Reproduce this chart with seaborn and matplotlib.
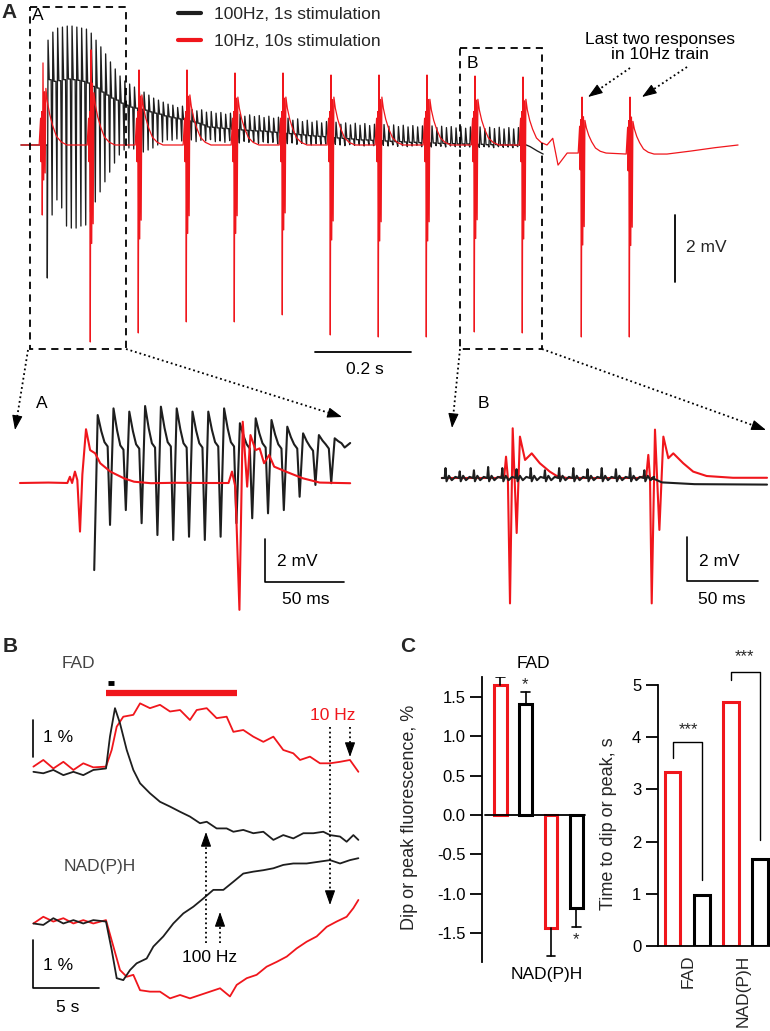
import numpy as np
import matplotlib
matplotlib.use('Agg')
import matplotlib.pyplot as plt
from matplotlib.patches import Rectangle
import seaborn as sns

sns.set_style('white')
plt.rcParams['font.family'] = ['Liberation Sans', 'DejaVu Sans']
plt.rcParams['axes.unicode_minus'] = False

RED = '#f0161c'
BLK = '#1e1e1e'

# ── Panel A overview: 10 Hz responses (ms, mV) ─────────────────────────────
a_red_onset_ms = [0, 100, 200, 300, 400, 500, 600, 700, 800, 900, 1000, 1123, 1223]
a_red_peak_mv = [2.45, 2.84, 2.24, 2.24, 2.15, 2.15, 2.09, 2.09, 2.09, 2.06, 2.03, 1.43, 1.43]
a_red_trough_mv = [-2.09, -5.88, -5.61, -5.28, -5.28, -5.07, -5.67, -5.73, -5.73, -5.58, -5.61, -5.73, -5.73]
a_red_hump_mv = [1.3, 1.2, 1.15, 1.15, 1.1, 1.1, 1.1, 1.1, 1.05, 1.05, 1.05, 0.75, 0.75]
a_red_base_mv = [0, 0, 0, 0, 0, 0, 0, 0, 0, 0, 0, -0.24, -0.27]
a_red_break_ms = [1062, 1073, 1092]
a_red_break_mv = [0.2, -0.6, -0.24]
a_red_tail_ms = [1300, 1350, 1400, 1448]
a_red_tail_mv = [-0.27, -0.18, -0.08, 0.0]

# ── Panel A overview: 100 Hz train, per-stimulus top / shoulder / bottom (mV)
a_blk_first_ms = 9
a_blk_rate_hz = 100
a_blk_top_mv = [
    3.13, 3.37, 3.49, 3.52, 3.55, 3.55, 3.52, 3.49, 3.46, 3.34,
    3.13, 2.93, 2.72, 2.48, 2.27, 2.06, 1.91, 1.82, 1.73, 1.67,
    1.58, 1.49, 1.40, 1.34, 1.28, 1.22, 1.19, 1.12, 1.16, 1.08,
    1.06, 1.02, 1.05, 0.98, 1.00, 0.95, 0.97, 0.92, 0.95, 0.90,
    0.92, 0.86, 0.90, 0.85, 0.88, 0.82, 0.86, 0.80, 0.83, 0.76,
    0.80, 0.74, 0.78, 0.70, 0.74, 0.68, 0.72, 0.66, 0.70, 0.64,
    0.68, 0.62, 0.66, 0.60, 0.65, 0.59, 0.64, 0.58, 0.62, 0.57,
    0.61, 0.56, 0.60, 0.55, 0.59, 0.54, 0.58, 0.54, 0.57, 0.53,
    0.57, 0.52, 0.56, 0.52, 0.55, 0.51, 0.55, 0.50, 0.54, 0.50,
    0.54, 0.49, 0.53, 0.49, 0.53, 0.48, 0.52, 0.48, 0.52, 0.47]
a_blk_mid_mv = [
    1.95, 1.90, 1.92, 1.95, 1.97, 1.95, 1.93, 1.90, 1.85, 1.75,
    1.70, 1.58, 1.49, 1.40, 1.34, 1.25, 1.19, 1.13, 1.10, 1.07,
    1.04, 0.99, 0.95, 0.92, 0.87, 0.84, 0.81, 0.78, 0.76, 0.72,
    0.69, 0.65, 0.60, 0.54, 0.53, 0.51, 0.50, 0.49, 0.47, 0.46,
    0.45, 0.44, 0.43, 0.42, 0.42, 0.41, 0.39, 0.38, 0.36, 0.35,
    0.34, 0.33, 0.31, 0.30, 0.28, 0.27, 0.26, 0.25, 0.24, 0.22,
    0.21, 0.20, 0.19, 0.18, 0.16, 0.15, 0.15, 0.14, 0.13, 0.13,
    0.12, 0.11, 0.10, 0.10, 0.09, 0.08, 0.08, 0.07, 0.07, 0.06,
    0.06, 0.05, 0.05, 0.04, 0.04, 0.03, 0.03, 0.03, 0.02, 0.02,
    0.02, 0.01, 0.01, 0.01, 0.00, 0.00, 0.00, -0.01, -0.01, 0.00]
a_blk_bot_mv = [
    -3.97, -2.09, -1.64, -1.88, -2.42, -2.48, -2.48, -2.42, -2.39, -2.00,
    -1.70, -1.40, -1.10, -0.81, -0.54, -0.30, -0.15, -0.09, -0.12, -0.21,
    -0.21, -0.15, -0.09, 0.00, 0.09, 0.15, 0.14, 0.18, 0.12, 0.16,
    0.15, 0.10, 0.14, 0.12, 0.16, 0.10, 0.12, 0.08, 0.13, 0.10,
    0.06, 0.11, 0.08, 0.10, 0.05, 0.09, 0.06, 0.08, 0.03, 0.07,
    0.04, 0.06, 0.02, 0.05, 0.03, 0.00, 0.04, 0.01, 0.03, -0.01,
    0.02, 0.00, -0.02, 0.01, -0.01, 0.00, -0.03, 0.00, -0.02, -0.04,
    -0.01, -0.03, 0.00, -0.04, -0.02, -0.05, -0.03, -0.01, -0.05, -0.03,
    -0.06, -0.02, -0.04, -0.06, -0.03, -0.05, -0.07, -0.04, -0.06, -0.03,
    -0.07, -0.05, -0.06, -0.08, -0.05, -0.07, -0.06, -0.08, -0.05, -0.07]
a_blk_tail_ms = [1015, 1030, 1042]
a_blk_tail_mv = [-0.05, -0.18, -0.27]

# ── Inset A (ms, mV) ───────────────────────────────────────────────────────
ia_red_ms = [-38, -20, -8, -6.4, -5, -3.2, -1.7, 0, 1.5, 3.8,
             6.4, 9.6, 12.8, 19.2, 27.8, 34.2, 44.9, 60, 80, 94,
             96.2, 98.3, 100.9, 103, 105.8, 107.9, 111.1, 113.7, 116.5, 119.7,
             122.9, 130.3, 141, 151.7, 171]
ia_red_mv = [0, 0.02, 0, 0.29, 0, 0.53, 0.14, -2.26, 0.4, 2.5,
             1.53, 1.38, 0.92, 0.53, 0.22, 0.06, -0.01, 0.01, 0, 0,
             0.53, -0.17, -5.9, 2.85, -0.17, 2.23, 1.53, 1.61, 0.92, 1.30,
             0.76, 0.53, 0.22, 0.02, -0.01]
ia_blk_first_ms = 9
ia_blk_top_mv = [3.16, 3.47, 3.32, 3.58, 3.55, 3.47, 3.32, 3.32,
                 3.47, 2.78, 3.01, 2.93, 2.62, 2.31, 2.23, 2.08]
ia_blk_mid_mv = [1.90, 1.75, 1.80, 1.85, 1.90, 1.85, 1.85, 1.90,
                 1.90, 1.80, 1.85, 1.80, 1.80, 1.70, 1.80, 1.85]
ia_blk_bot_mv = [-4.05, -1.95, -1.26, -1.87, -2.42, -2.65, -2.50, -2.65,
                 -2.50, -1.87, -1.64, -1.41, -1.26, -0.64, -0.09, -0.01]

# ── Inset B (ms, mV) ───────────────────────────────────────────────────────
ib_red_ms = [-48, -10, -4, -2.8, -1.5, 0, 1.9, 4.7, 7.0, 10.6,
             15.3, 21, 28, 33, 40, 90, 96, 97.4, 98.6, 99.8,
             102.1, 105.2, 108, 111.5, 115, 122, 129, 138.5, 157, 181]
ib_red_mv = [0, 0, 0.1, 0.97, 0, -5.7, 2.26, -2.5, 1.88, 0.82,
             1.12, 0.67, 0.29, 0.09, 0, 0, 0.1, 1.05, 0, -5.7,
             2.2, -2.36, 1.88, 0.9, 1.12, 0.67, 0.29, 0.09, 0.01, 0.01]
ib_blk_first_ms = -46
ib_blk_tick_mv = [0.45, 0.30, 0.35, 0.50, 0.45, 0.40, 0.45, 0.35,
                  0.45, 0.45, 0.40, 0.45, 0.40, 0.45, 0.35]
ib_blk_tail_ms = [107, 130, 181]
ib_blk_tail_mv = [-0.2, -0.28, -0.3]

# ── Panel B: fluorescence (s, %) ───────────────────────────────────────────
b_fad_red_s = [-5.5, -4.75, -3.99, -3.23, -2.47, -1.72, -0.96, 0, 0.43, 0.81,
               1.31, 2.07, 2.58, 3.33, 4.09, 4.85, 5.61, 6.36, 6.87, 7.63,
               8.38, 9.14, 9.65, 10.40, 11.16, 11.92, 12.68, 13.43, 14.19, 14.70,
               15.45, 16.21, 16.97, 17.73, 18.48, 19.12]
b_fad_red_pct = [0.01, 0.19, -0.04, 0.14, -0.08, 0.10, -0.01, 0.01, 0.46, 1.09,
                 1.36, 1.41, 1.72, 1.59, 1.68, 1.50, 1.54, 1.27, 1.54, 1.59,
                 1.32, 1.36, 0.95, 1.00, 0.82, 0.68, 0.82, 0.46, 0.37, 0.19,
                 0.28, 0.10, 0.10, 0.14, 0.19, -0.13]
b_fad_blk_s = [-5.5, -4.75, -3.99, -3.23, -2.47, -1.72, -0.96, 0, 0.30, 0.68,
               1.06, 1.57, 2.07, 2.58, 3.33, 4.09, 4.85, 5.61, 6.36, 7.12,
               7.63, 8.38, 9.14, 9.65, 10.40, 11.16, 11.92, 12.68, 13.43, 14.19,
               14.95, 15.71, 16.46, 16.97, 17.73, 18.23, 18.74, 19.12]
b_fad_blk_pct = [-0.13, -0.17, -0.08, -0.22, -0.13, -0.22, -0.08, -0.04, 0.82, 1.59,
                 1.18, 0.46, -0.08, -0.44, -0.71, -0.94, -1.07, -1.21, -1.34, -1.52,
                 -1.48, -1.66, -1.66, -1.75, -1.70, -1.79, -1.75, -1.97, -1.84, -1.93,
                 -1.79, -1.79, -1.75, -1.84, -1.88, -2.02, -1.84, -1.97]
b_nad_blk_s = [-5.5, -4.75, -3.99, -3.23, -2.47, -1.72, -0.96, 0, 0.43, 0.81,
               1.31, 1.82, 2.32, 3.08, 3.59, 4.34, 5.10, 5.86, 6.62, 7.37,
               8.13, 8.89, 9.65, 10.40, 11.16, 11.92, 12.68, 13.43, 14.19, 15.20,
               16.21, 16.97, 17.73, 18.48, 19.12]
b_nad_blk_pct = [-0.01, -0.04, 0.10, -0.01, 0.06, -0.01, 0.06, 0.03, -0.56, -1.15,
                 -1.19, -0.98, -0.84, -0.74, -0.49, -0.28, -0.01, 0.20, 0.34, 0.51,
                 0.69, 0.69, 0.86, 1.03, 1.07, 1.10, 1.14, 1.21, 1.24, 1.24,
                 1.28, 1.31, 1.24, 1.31, 1.35]
b_nad_red_s = [-5.5, -4.75, -3.99, -3.23, -2.47, -1.72, -0.96, 0, 0.56, 1.06,
               1.57, 2.07, 2.58, 3.33, 4.09, 4.85, 5.61, 6.36, 7.12, 7.88,
               8.64, 9.39, 9.90, 10.66, 11.41, 12.17, 12.93, 13.69, 14.44, 15.20,
               15.96, 16.72, 17.47, 18.23, 18.74, 19.12]
b_nad_red_pct = [-0.01, 0.13, 0.03, 0.10, -0.01, 0.06, -0.01, 0.06, -0.49, -0.98,
                 -1.12, -1.08, -1.40, -1.43, -1.43, -1.57, -1.50, -1.57, -1.50, -1.43,
                 -1.36, -1.53, -1.29, -1.15, -1.08, -0.91, -0.81, -0.70, -0.53, -0.39,
                 -0.28, -0.08, 0.03, 0.13, 0.31, 0.48]
b_train_10hz_s = [0, 9.9]
b_train_100hz_s = [0.15, 0.6]

# ── Panel C ────────────────────────────────────────────────────────────────
c_cond = ['FAD 10Hz', 'FAD 100Hz', 'NADH 10Hz', 'NADH 100Hz']
c_freq = ['10 Hz', '100 Hz', '10 Hz', '100 Hz']
c_amp_pct = [1.64, 1.40, -1.43, -1.18]
c_amp_err = [0.11, 0.16, 0.36, 0.24]
c_time_s = [3.33, 0.98, 4.68, 1.66]
c_pal = {'10 Hz': RED, '100 Hz': 'black'}

# ── figure in pixel units ──────────────────────────────────────────────────
W, H = 770, 1031
fig = plt.figure(figsize=(W / 100, H / 100), dpi=100)


def px_axes(l, t, r, b):
    return fig.add_axes([l / W, 1 - b / H, (r - l) / W, (b - t) / H])


def trace_axes(box, x0, sx, y0, sy):
    # a point (x, v) of the trace lands at pixel (x0 + sx*x, y0 - sy*v)
    l, t, r, b = box
    ax = px_axes(l, t, r, b)
    ax.set_axis_off()
    ax.patch.set_alpha(0)
    ax.set_xlim((l - x0) / sx, (r - x0) / sx)
    ax.set_ylim((y0 - b) / sy, (y0 - t) / sy)
    return ax


def trace(ax, x, y, color, lw, label=None):
    lims = ax.get_xlim(), ax.get_ylim()
    sns.lineplot(x=np.asarray(x, float), y=np.asarray(y, float), sort=False,
                 estimator=None, color=color, lw=lw, ax=ax, label=label,
                 legend=False)
    ax.set_xlim(lims[0])
    ax.set_ylim(lims[1])
    return ax.lines[-1]


def red_response(t0, peak, trough, hump, base):
    dt = [-8, -5, -4, -2.5, -1.5, 0, 1.5, 3, 4.5, 6, 9, 14, 20, 28, 38, 50]
    p, tr = peak - base, trough - base
    dv = [0, 0.8, -0.5, 1.0, tr, p, 0.5 * tr, 0.65 * p, 0.4 * tr,
          1.3 * hump, hump, 0.7 * hump, 0.45 * hump, 0.2 * hump, 0.07 * hump, 0]
    return [t0 + d for d in dt], [base + d for d in dv]


# Panel A overview traces
axA = trace_axes((0, 0, 770, 375), 43, 0.48, 145, 33.5)
bt, bv = [-46, a_blk_first_ms - 0.5], [0, 0]
period = 1000 / a_blk_rate_hz
for k in range(len(a_blk_top_mv)):
    tk = a_blk_first_ms + k * period
    bt += [tk, tk + 1.5, tk + 4, tk + 8]
    bv += [a_blk_bot_mv[k], a_blk_top_mv[k], a_blk_mid_mv[k], a_blk_mid_mv[k]]
bt += a_blk_tail_ms
bv += a_blk_tail_mv
h_blk = trace(axA, bt, bv, BLK, 0.95, '100Hz, 1s stimulation')

rt, rv = [-46], [0]
for i, t0 in enumerate(a_red_onset_ms):
    if i == 11:
        rt += a_red_break_ms
        rv += a_red_break_mv
    tt, vv = red_response(t0, a_red_peak_mv[i], a_red_trough_mv[i],
                          a_red_hump_mv[i], a_red_base_mv[i])
    rt += tt
    rv += vv
rt += a_red_tail_ms
rv += a_red_tail_mv
h_red = trace(axA, rt, rv, RED, 0.9, '10Hz, 10s stimulation')

axA.plot([566.7, 766.7], [-6.18, -6.18], color='k', lw=1.3)
axA.plot([1316.7, 1316.7], [-4.09, -2.09], color='k', lw=1.3)

leg = axA.legend(handles=[h_blk, h_red], loc='upper left',
                 bbox_to_anchor=(178 / W, 1 - 7 / H), bbox_transform=fig.transFigure,
                 frameon=False, fontsize=12.5, handlelength=1.35, handletextpad=0.7,
                 labelspacing=0.65, borderpad=0, borderaxespad=0)
for ln in leg.get_lines():
    ln.set_linewidth(3)

# Inset A
axIA = trace_axes((0, 380, 390, 640), 80, 1.58, 483, 21.5)
it, iv = [], []
for k in range(len(ia_blk_top_mv)):
    tk = ia_blk_first_ms + k * 10
    top, mid = ia_blk_top_mv[k], ia_blk_mid_mv[k]
    it += [tk, tk + 2.2, tk + 4.5, tk + 6.5, tk + 8.5]
    iv += [ia_blk_bot_mv[k], top, top - 0.6 * (top - mid), mid, mid - 0.2]
it += [171]
iv += [1.86]
trace(axIA, it, iv, BLK, 1.5)
trace(axIA, ia_red_ms, ia_red_mv, RED, 1.5)
axIA.plot([117.1, 117.1, 167.1], [-2.6, -4.6, -4.6], color='k', lw=1.2)

# Inset B
axIB = trace_axes((390, 380, 770, 640), 510, 1.42, 478, 22)
trace(axIB, ib_red_ms, ib_red_mv, RED, 1.5)
jt, jv = [-48], [0]
for k, h in enumerate(ib_blk_tick_mv):
    tk = ib_blk_first_ms + k * 10
    jt += [tk, tk + 0.6, tk + 1.3, tk + 3, tk + 5, tk + 7.5]
    jv += [0, h, -0.15, 0.1, -0.1, 0.05]
jt += [100] + ib_blk_tail_ms
jv += [0] + ib_blk_tail_mv
trace(axIB, jt, jv, BLK, 1.5)
axIB.plot([124.6, 124.6, 174.6], [-2.68, -4.68, -4.68], color='k', lw=1.2)

# Panel B (the two axes overlap; both are transparent)
axF = trace_axes((0, 650, 380, 870), 106, 13.2, 767, 37)
trace(axF, b_fad_red_s, b_fad_red_pct, RED, 1.3)
trace(axF, b_fad_blk_s, b_fad_blk_pct, BLK, 1.3)
axF.plot(b_train_10hz_s, [2.0, 2.0], color=RED, lw=4.5, solid_capstyle='butt')
axF.plot(b_train_100hz_s, [2.27, 2.27], color='k', lw=3.5, solid_capstyle='butt')
axF.plot([-5.53, -5.53], [0.27, 1.27], color='k', lw=1.2)

axN = trace_axes((0, 800, 380, 1031), 106, 13.2, 923, 48)
trace(axN, b_nad_red_s, b_nad_red_pct, RED, 1.3)
trace(axN, b_nad_blk_s, b_nad_blk_pct, BLK, 1.3)
axN.plot([-5.53, -5.53, -0.53], [-0.354, -1.354, -1.354], color='k', lw=1.2)

# Panel C, amplitudes
axC1 = px_axes(482, 677, 590, 962)
sns.barplot(x=c_cond, y=c_amp_pct, hue=c_freq, palette=c_pal, order=c_cond,
            fill=False, saturation=1, linewidth=2.2, width=0.5, dodge=False,
            errorbar=None, legend=False, ax=axC1)
for i, (m, e) in enumerate(zip(c_amp_pct, c_amp_err)):
    end = m + e if m > 0 else m - e
    axC1.plot([i, i], [m, end], color='k', lw=1.2)
    axC1.plot([i - 0.17, i + 0.17], [end, end], color='k', lw=1.2)
axC1.set_xlim(-0.73, 3.54)
axC1.set_ylim(-1.861, 1.747)
sns.despine(ax=axC1, bottom=True)
axC1.spines['left'].set_linewidth(1.3)
axC1.spines['left'].set_color('k')
axC1.axhline(0, 0.028, 0.954, color='k', lw=1.3)
axC1.set_xticks([])
yt = [-1.5, -1.0, -0.5, 0.0, 0.5, 1.0, 1.5]
axC1.set_yticks(yt)
axC1.set_yticklabels([f'{v:.1f}' for v in yt])
axC1.tick_params(axis='y', left=True, direction='out', length=9, width=1.3,
                 pad=3, labelsize=12, colors='k')
axC1.set_xlabel('')
axC1.set_ylabel('Dip or peak fluorescence, %', fontsize=13, va='center')
axC1.yaxis.set_label_coords(-0.667, 0.509)
axC1.patch.set_alpha(0)

# Panel C, timing
axC2 = px_axes(658, 685, 770, 946)
sns.barplot(x=c_cond, y=c_time_s, hue=c_freq, palette=c_pal, order=c_cond,
            fill=False, saturation=1, linewidth=2.2, width=0.55, dodge=False,
            errorbar=None, legend=False, ax=axC2)
axC2.set_xlim(-0.5, 3.36)
axC2.set_ylim(0, 5)
sns.despine(ax=axC2)
for s in ('left', 'bottom'):
    axC2.spines[s].set_linewidth(1.3)
    axC2.spines[s].set_color('k')
axC2.set_yticks(range(6))
axC2.set_yticklabels([str(v) for v in range(6)])
axC2.tick_params(axis='y', left=True, direction='out', length=9, width=1.3,
                 pad=3, labelsize=12, colors='k')
axC2.set_xticks([0.55, 2.45])
axC2.set_xticklabels(['FAD', 'NAD(P)H'], rotation=90, fontsize=12.5)
axC2.tick_params(axis='x', bottom=False, length=0, pad=6)
axC2.set_xlabel('')
axC2.set_ylabel('Time to dip or peak, s', fontsize=13, va='center')
axC2.yaxis.set_label_coords(-0.446, 0.47)
axC2.plot([0, 0, 1, 1], [3.6, 3.91, 3.91, 1.26], color='k', lw=1, clip_on=False)
axC2.plot([2, 2, 3, 3], [5.1, 5.25, 5.25, 2.03], color='k', lw=1, clip_on=False)
axC2.patch.set_alpha(0)

# ── overlay: frames, arrows, annotations (pixel coords) ────────────────────
ov = px_axes(0, 0, W, H)
ov.set_xlim(0, W)
ov.set_ylim(H, 0)
ov.set_axis_off()
ov.patch.set_alpha(0)

for (x1, y1, x2, y2) in [(30, 7, 126, 349), (460, 48, 542, 349)]:
    ov.add_patch(Rectangle((x1, y1), x2 - x1, y2 - y1, fill=False, ec='k',
                           lw=1.3, ls=(0, (4, 3))))


def dotted_arrow(x1, y1, x2, y2, head=12):
    d = np.hypot(x2 - x1, y2 - y1)
    hx, hy = x2 - (x2 - x1) * head / d, y2 - (y2 - y1) * head / d
    ov.plot([x1, hx], [y1, hy], color='k', lw=1.3, ls=(0, (1, 1.6)))
    ov.annotate('', xy=(x2, y2), xytext=(hx, hy),
                arrowprops=dict(arrowstyle='-|>,head_length=0.9,head_width=0.32',
                                lw=0.8, color='k', shrinkA=0, shrinkB=0))


for seg in [(28, 350, 15, 430), (126, 349, 342, 417), (460, 349, 452, 428),
            (542, 349, 766, 430), (630, 68, 588, 97), (687, 67, 642, 97),
            (330, 727, 330, 905), (350, 727, 350, 757), (206, 943, 206, 832),
            (220, 943, 220, 912)]:
    dotted_arrow(*seg)

txt = dict(fontsize=12.5, ha='center', va='center', color='k')
ov.text(9, 13, 'A', fontsize=15, fontweight='bold', ha='center', va='center')
ov.text(10, 647, 'B', fontsize=15, fontweight='bold', ha='center', va='center')
ov.text(408, 647, 'C', fontsize=15, fontweight='bold', ha='center', va='center')
ov.text(38, 16, 'A', **txt)
ov.text(472, 63, 'B', **txt)
ov.text(660, 47, 'Last two responses\nin 10Hz train', linespacing=1.0, **txt)
ov.text(686, 248, '2 mV', fontsize=12.5, ha='left', va='center')
ov.text(365, 369, '0.2 s', **txt)
ov.text(42, 403, 'A', **txt)
ov.text(483, 403, 'B', **txt)
ov.text(297, 562, '2 mV', **txt)
ov.text(306, 600, '50 ms', **txt)
ov.text(719, 562, '2 mV', **txt)
ov.text(722, 600, '50 ms', **txt)
ov.text(78, 663, 'FAD', fontsize=12.5, ha='center', va='center', color='#444444')
ov.text(100, 867, 'NAD(P)H', fontsize=12.5, ha='center', va='center', color='#444444')
ov.text(333, 715, '10 Hz', fontsize=12.5, ha='center', va='center', color=RED)
ov.text(210, 957, '100 Hz', **txt)
ov.text(58, 738, '1 %', **txt)
ov.text(58, 965, '1 %', **txt)
ov.text(68, 1007, '5 s', **txt)
ov.text(533, 663, 'FAD', **txt)
ov.text(547, 975, 'NAD(P)H', **txt)
ov.text(525, 685, '*', fontsize=12, ha='center', va='center')
ov.text(576, 940, '*', fontsize=12, ha='center', va='center')
ov.text(688, 730, '***', fontsize=12, ha='center', va='center')
ov.text(744, 657, '***', fontsize=12, ha='center', va='center')

fig.savefig('out.png', dpi=100)
